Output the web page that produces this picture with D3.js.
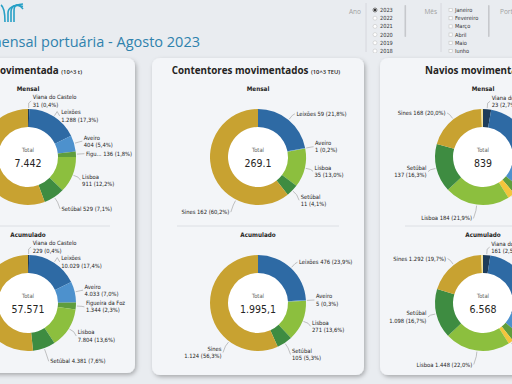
<!DOCTYPE html>
<html>
<head>
<meta charset="utf-8">
<script src="https://cdn.jsdelivr.net/npm/d3@7"></script>
<style>
  html, body { margin: 0; padding: 0; background: #e9ecf0; overflow: hidden; }
  svg { display: block; }
</style>
</head>
<body>
<svg id="chart" width="512" height="384"></svg>
<script>
// ---- data ----
const ports = ["Viana do Castelo", "Leixões", "Aveiro", "Figueira da Foz", "Lisboa", "Setúbal", "Sines"];
const cargaMensal = [31, 1288, 404, 136, 911, 529, 4143];
const cargaAcum = [229, 10029, 4033, 1344, 7804, 4381, 29751];
const cargaTotals = [7442, 57571];

const contPorts = ["Leixões", "Aveiro", "Lisboa", "Setúbal", "Sines"];
const contMensal = [58.7, 0.5, 35, 11, 162];
const contAcum = [476, 5, 271, 105, 1124];
const contTotals = [269.1, 1995.1];

const navPorts = ["Viana do Castelo", "Leixões", "Aveiro", "Figueira da Foz", "Portimão", "Lisboa", "Setúbal", "Sines", "Faro"];
const navMensal = [23, 235, 45, 22, 20, 184, 137, 168, 5];
const navAcum = [161, 1850, 380, 190, 110, 1448, 1098, 1292, 39];
const navTotals = [839, 6568];

const years = ["2023", "2022", "2021", "2020", "2019", "2018"];
const months = ["Janeiro", "Fevereiro", "Março", "Abril", "Maio", "Junho"];

// label lines per slice: 2 = wrapped, 1 = one line, 0 = no label
const cargaLinesM = [2, 2, 2, 1, 2, 1, 2];
const cargaLinesA = [2, 2, 2, 2, 2, 1, 2];
const contLinesM = [1, 2, 2, 2, 1];
const contLinesA = [1, 2, 2, 2, 2];
const navLinesM = [2, 2, 2, 2, 2, 1, 2, 1, 0];
const navLinesA = [2, 2, 2, 2, 2, 1, 2, 1, 0];

const color = d3.scaleOrdinal()
  .domain(["Viana do Castelo", "Leixões", "Aveiro", "Figueira da Foz", "Lisboa", "Setúbal", "Sines", "Portimão", "Faro"])
  .range(["#1e3c5a", "#2e6aa4", "#4d91cd", "#5f9d3d", "#8cbf3e", "#3e8c41", "#c8a231", "#f3c53c", "#f5e39c"]);

const pt = d3.formatLocale({ decimal: ",", thousands: ".", grouping: [3], currency: ["", "€"] });
const fmtInt = pt.format(",.0f");
const fmtPct = pt.format(".1%");
const fmtDec = pt.format(",.1f");

const labelFont = "'Liberation Sans Narrow', 'DejaVu Sans Condensed', 'Roboto', sans-serif";
const uiFont = "'Open Sans', 'Noto Sans', sans-serif";
const labelSize = 5.8;

const svg = d3.select("#chart");
const defs = svg.append("defs");

// soft card shadow
const shadow = defs.append("filter").attr("id", "shadow")
  .attr("x", "-10%").attr("y", "-10%").attr("width", "130%").attr("height", "130%");
shadow.append("feDropShadow")
  .attr("dx", 1.5).attr("dy", 2).attr("stdDeviation", 2)
  .attr("flood-color", "#000").attr("flood-opacity", 0.28);

defs.append("clipPath").attr("id", "headClip")
  .append("rect").attr("x", 0).attr("y", 0).attr("width", 512).attr("height", 53);

// ---- header ----
const logo = svg.append("g").attr("fill", "none").attr("stroke", "#27a0c6").attr("stroke-width", 1.6);
logo.append("path").attr("d", "M1,5 C4,7 5,12 5,22");
[8, 11, 14].forEach((x, i) => {
  logo.append("path").attr("d", `M${x},22 L${x},${13 - i} C${x},${8 - i * 2} ${x + 4},${5 - i} 23,${4 + i * 2.5}`);
});

svg.append("text")
  .attr("x", 200).attr("y", 47)
  .attr("text-anchor", "end")
  .attr("font-family", uiFont).attr("font-size", 14.5)
  .attr("fill", "#2f82ad")
  .text("Atividade mensal portuária - Agosto 2023");

// slicers
const slicer = svg.append("g").attr("clip-path", "url(#headClip)")
  .attr("font-family", uiFont);

function slicerBlock(label, labelX, lineX, items, radio, barX) {
  slicer.append("text").attr("x", labelX).attr("y", 14).attr("text-anchor", "end")
    .attr("font-size", 6.5).attr("fill", "#a0a0a0").text(label);
  slicer.append("line").attr("x1", lineX).attr("x2", lineX).attr("y1", 3).attr("y2", 52)
    .attr("stroke", "#d0d3d8").attr("stroke-width", 0.8);
  const y = d3.scalePoint().domain(items).range([10, 51]);
  items.forEach((d, i) => {
    if (radio) {
      slicer.append("circle").attr("cx", lineX + 9).attr("cy", y(d)).attr("r", 2)
        .attr("fill", "#fff").attr("stroke", i === 0 ? "#333" : "#c4c4c4").attr("stroke-width", 0.6);
      if (i === 0) slicer.append("circle").attr("cx", lineX + 9).attr("cy", y(d)).attr("r", 1.2).attr("fill", "#333");
    } else {
      slicer.append("rect").attr("x", lineX + 8).attr("y", y(d) - 1.6).attr("width", 3.2).attr("height", 3.2)
        .attr("fill", "#fff").attr("stroke", "#c4c4c4").attr("stroke-width", 0.6);
    }
    slicer.append("text").attr("x", lineX + 14).attr("y", y(d) + 2)
      .attr("font-family", labelFont).attr("font-size", 5.6).attr("fill", "#333").text(d);
  });
  slicer.append("rect").attr("x", barX).attr("y", 5).attr("width", 1.6).attr("height", 32)
    .attr("rx", 0.8).attr("fill", "#c6c8cc");
}
slicerBlock("Ano", 361, 366, years, true, 404.5);
slicerBlock("Mês", 437, 441, months, false, 488);
slicer.append("text").attr("x", 500).attr("y", 14).attr("font-size", 6.5).attr("fill", "#a0a0a0").text("Porto");

// ---- cards ----
const cardTop = 58;
const rOut = 48, rIn = 30;
const cyM = 157, cyA = 303;
const lineH = 7.2;

const cards = [
  { x: -80, w: 215, h: 315, cx: 28, title: "Carga movimentada", unit: "(10^3 t)", anchor: "end", tx: 82,
    names: ports, series: [cargaMensal, cargaAcum], totals: cargaTotals, fmts: [fmtInt, fmtInt],
    lines: [cargaLinesM, cargaLinesA] },
  { x: 152, w: 212, h: 317, cx: 258, title: "Contentores movimentados", unit: "(10^3 TEU)", anchor: "middle", tx: 256,
    names: contPorts, series: [contMensal, contAcum], totals: contTotals, fmts: [d3.format(".1f"), fmtDec],
    lines: [contLinesM, contLinesA] },
  { x: 380, w: 206, h: 317, cx: 483, title: "Navios movimentados", unit: "(nº)", anchor: "start", tx: 425,
    names: navPorts, series: [navMensal, navAcum], totals: navTotals, fmts: [fmtInt, fmtInt],
    lines: [navLinesM, navLinesA] }
];

const measure = svg.append("text").attr("font-family", labelFont).attr("font-size", labelSize)
  .attr("visibility", "hidden");
function textW(s) { measure.text(s); return measure.node().getComputedTextLength(); }
function fit(s, w) {
  if (textW(s) <= w) return s;
  let t = s;
  while (t.length > 1 && textW(t + "...") > w) t = t.slice(0, -1);
  return t.trimEnd() + "...";
}

cards.forEach(card => {
  const g = svg.append("g");
  g.append("rect")
    .attr("x", card.x).attr("y", cardTop).attr("width", card.w).attr("height", card.h)
    .attr("rx", 8).attr("fill", "#f3f5f8")
    .attr("filter", "url(#shadow)");

  const title = g.append("text")
    .attr("x", card.tx).attr("y", 74)
    .attr("text-anchor", card.anchor)
    .attr("font-family", uiFont).attr("fill", "#252423");
  title.append("tspan").attr("font-size", 9.8).attr("font-weight", 700).text(card.title + " ");
  title.append("tspan").attr("font-size", 5.8).attr("font-weight", 600).text(card.unit);

  g.append("line")
    .attr("x1", card.x + 25).attr("x2", card.x + card.w - 25)
    .attr("y1", 226).attr("y2", 226)
    .attr("stroke", "#d6d9de").attr("stroke-width", 0.8);

  [["Mensal", 90.5, cyM], ["Acumulado", 236.5, cyA]].forEach(([sub, sy, cy], k) => {
    g.append("text").attr("x", card.cx).attr("y", sy).attr("text-anchor", "middle")
      .attr("font-family", labelFont).attr("font-size", 6.3).attr("font-weight", 700)
      .attr("fill", "#252423").text(sub);
    drawDonut(g, card, card.series[k], card.totals[k], card.fmts[k], card.lines[k], cy);
  });
});

function drawDonut(g, card, values, total, fmtTotal, lines, cy) {
  const cx = card.cx;
  const data = card.names.map((n, i) => ({ name: n, value: values[i], lines: lines[i] }));
  const pie = d3.pie().sort(null).value(d => d.value);
  const arc = d3.arc().innerRadius(rIn).outerRadius(rOut);
  const arcs = pie(data);

  const dg = g.append("g").attr("transform", `translate(${cx},${cy})`);
  dg.append("circle").attr("r", rIn).attr("fill", "#fff");
  dg.selectAll("path.slice")
    .data(arcs)
    .enter()
    .append("path")
    .attr("class", "slice")
    .attr("d", arc)
    .attr("fill", d => color(d.data.name));

  dg.append("text").attr("y", -5).attr("text-anchor", "middle")
    .attr("font-family", labelFont).attr("font-size", 5.8).attr("fill", "#605e5c").text("Total");
  dg.append("text").attr("y", 10).attr("text-anchor", "middle")
    .attr("font-family", labelFont).attr("font-size", 10.5).attr("fill", "#252423")
    .text(fmtTotal(total));

  // outside labels with leader lines
  // (very large slices get their label nearer the start of the slice)
  const labels = arcs.filter(a => a.data.lines > 0).map(a => {
    const span = a.endAngle - a.startAngle;
    const m = span > Math.PI ? a.startAngle + span * 0.3 : a.startAngle + span / 2;
    const s = Math.sin(m), c = Math.cos(m);
    const side = s >= 0 ? 1 : -1;
    const ry = rOut + (c > 0 ? 8 : 14);
    const ex = cx + (rOut + 6) * s, ey = cy - (rOut + 6) * c;
    return {
      a, side, m,
      ax: cx + (rOut + 1) * s, ay: cy - (rOut + 1) * c,
      ex, ey,
      lx: ex + side * 4,
      ly: cy - ry * c,
      h: a.data.lines * lineH
    };
  });

  [1, -1].forEach(side => {
    const group = labels.filter(l => l.side === side).sort((p, q) => p.ly - q.ly);
    for (let i = 1; i < group.length; i++) {
      const prev = group[i - 1], cur = group[i];
      const minY = prev.ly + prev.h / 2 + cur.h / 2 + 0.5;
      if (cur.ly < minY) cur.ly = minY;
    }
  });

  const lg = g.append("g").attr("font-family", labelFont).attr("font-size", labelSize).attr("fill", "#252423");
  labels.forEach(l => {
    const name = l.a.data.name;
    const val = `${fmtInt(l.a.data.value)} (${fmtPct(l.a.data.value / total)})`;
    const maxW = l.side > 0 ? card.x + card.w - 4 - l.lx : l.lx - (card.x + 3);
    let rows;
    if (l.a.data.lines === 2) {
      rows = [fit(name, maxW), fit(val, maxW)];
    } else if (textW(name + " " + val) <= maxW) {
      rows = [name + " " + val];
    } else {
      const n = fit(name, maxW * 0.4);
      rows = [n + " " + fit(val, maxW - textW(n + " "))];
    }

    lg.append("polyline")
      .attr("points", [[l.ax, l.ay], [l.ex, l.ey], [l.lx - l.side * 1.5, l.ly]].map(p => p.join(",")).join(" "))
      .attr("fill", "none").attr("stroke", "#9a9a9a").attr("stroke-width", 0.6);

    const top = l.ly - l.h / 2;
    rows.forEach((r, k) => {
      lg.append("text")
        .attr("x", l.lx).attr("y", top + (k + 1) * lineH - 1.6)
        .attr("text-anchor", l.side > 0 ? "start" : "end")
        .text(r);
    });
  });
}
</script>
</body>
</html>
